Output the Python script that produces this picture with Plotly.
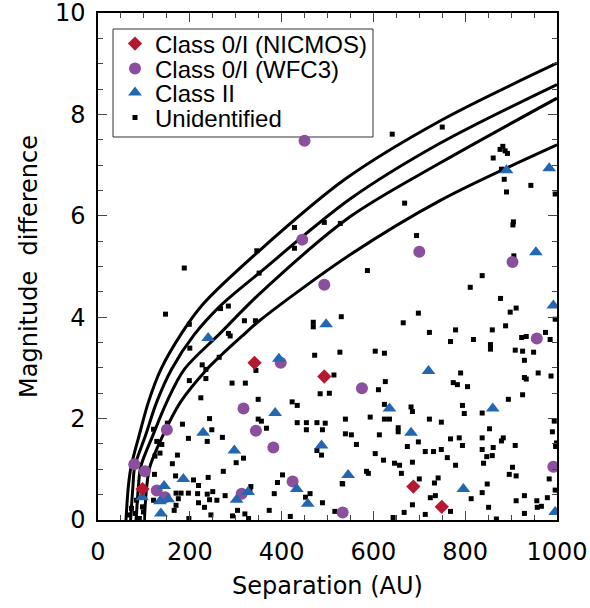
import plotly.graph_objects as go

# ---------------- data ----------------
# detection-limit curves (separation AU, magnitude difference)
curve1_sep = [61, 66, 72, 90, 110, 137, 182, 229, 350, 538, 745, 1000]
curve1_dm = [0.0, 0.65, 1.05, 1.68, 2.33, 2.97, 3.68, 4.26, 5.30, 6.72, 7.87, 9.01]
curve2_sep = [71, 76, 80, 104, 128, 160, 210, 266, 351, 549, 745, 1000]
curve2_dm = [0.0, 0.65, 1.05, 1.68, 2.33, 2.97, 3.66, 4.22, 4.87, 6.33, 7.43, 8.59]
curve3_sep = [83, 88, 93, 120, 150, 188, 266, 353, 549, 745, 1000]
curve3_dm = [0.0, 0.65, 1.05, 1.68, 2.33, 2.97, 3.68, 4.47, 5.98, 7.04, 8.32]
curve4_sep = [101, 106, 113, 142, 180, 237, 266, 313, 353, 549, 745, 1000]
curve4_dm = [0.0, 0.65, 1.05, 1.68, 2.33, 2.97, 3.23, 3.62, 3.94, 5.23, 6.30, 7.40]

nicmos_sep = [97, 341, 493, 687, 749]
nicmos_dm = [0.61, 3.10, 2.83, 0.66, 0.26]

wfc3_sep = [450, 445, 493, 700, 903, 956, 992, 533, 575, 398, 317, 344, 382,
            424, 313, 150, 79, 102, 128, 146]
wfc3_dm = [7.48, 5.53, 4.64, 5.29, 5.09, 3.58, 1.05, 0.15, 2.60, 3.10, 2.20,
           1.76, 1.43, 0.76, 0.52, 1.78, 1.10, 0.96, 0.58, 0.45]

class2_sep = [890, 983, 954, 992, 720, 635, 860, 682, 545, 796, 996, 497, 240,
              394, 386, 229, 297, 487, 186, 433, 327, 302, 457, 144, 135, 153,
              96, 137]
class2_dm = [6.90, 6.94, 5.28, 4.23, 2.94, 2.20, 2.20, 1.72, 0.89, 0.61, 0.16,
             3.86, 3.59, 3.18, 2.11, 1.72, 1.37, 1.47, 0.81, 0.61, 0.55, 0.40,
             0.32, 0.67, 0.37, 0.41, 0.45, 0.13]

unid_points = [
    (641, 7.61), (750, 7.75), (876, 7.31), (882, 7.37), (887, 7.28), (892, 7.23),
    (861, 7.14), (879, 6.92), (885, 6.72), (890, 6.47), (943, 6.60), (996, 6.43),
    (668, 6.25),
    (428, 5.77), (493, 5.87), (528, 5.85), (428, 5.36), (346, 5.31), (351, 4.87),
    (188, 4.97), (147, 4.06), (199, 3.86), (267, 4.17), (284, 4.22), (319, 3.93),
    (343, 3.93), (469, 3.90), (469, 3.81), (530, 4.01), (284, 3.68), (288, 3.63),
    (694, 5.61), (905, 5.88), (904, 5.82), (906, 5.21), (587, 4.92), (837, 4.82),
    (811, 4.59), (877, 4.37), (911, 4.18), (898, 4.10), (698, 4.08), (665, 3.89),
    (722, 3.70), (779, 3.75), (859, 3.75), (888, 3.83), (996, 3.96), (975, 3.70),
    (985, 3.56), (923, 3.60), (933, 3.62), (768, 3.52), (818, 3.56), (855, 3.46),
    (855, 3.37), (909, 3.35), (925, 3.33), (949, 3.31), (929, 3.15), (604, 3.33),
    (624, 3.29), (527, 3.31),
    (790, 2.90), (774, 2.71), (783, 2.67), (805, 2.63), (929, 2.81), (933, 2.78),
    (959, 2.90), (987, 2.84), (925, 2.47), (894, 2.38), (626, 2.73), (611, 2.57),
    (624, 2.28), (794, 2.26), (798, 2.10), (837, 2.11), (682, 2.23), (685, 2.14),
    (539, 1.99), (593, 2.03), (624, 1.99), (635, 1.99), (722, 1.99), (748, 1.93),
    (994, 1.95), (654, 1.82), (654, 1.74), (853, 1.80), (990, 1.74), (539, 1.70),
    (552, 1.68), (613, 1.68), (563, 1.49), (698, 1.54), (768, 1.60), (787, 1.62),
    (794, 1.47), (837, 1.62), (883, 1.62), (879, 1.56), (909, 1.47), (674, 1.45),
    (999, 1.52), (997, 1.45), (837, 1.39), (861, 1.43), (713, 1.35), (731, 1.35),
    (748, 1.39), (847, 1.25), (859, 1.27), (761, 1.23), (604, 1.31), (622, 1.18),
    (646, 1.12), (657, 1.08), (685, 1.14), (779, 1.08), (840, 1.12), (903, 1.04),
    (896, 0.90), (911, 0.87), (585, 0.96), (589, 0.92), (661, 0.92), (700, 0.81),
    (741, 0.83), (733, 0.73), (533, 0.71), (983, 0.81), (848, 0.71), (996, 0.59),
    (837, 0.54), (813, 0.42), (929, 0.48), (956, 0.38), (979, 0.44), (911, 0.38),
    (724, 0.44), (735, 0.48), (685, 0.30), (667, 0.15), (713, 0.11), (768, 0.17),
    (851, 0.25), (643, 0.05), (868, 0.02), (929, 0.13), (957, 0.25), (966, 0.27),
    (472, 3.25), (200, 3.39), (264, 3.21), (227, 3.06), (235, 2.97), (344, 2.95),
    (514, 2.86), (199, 2.75), (235, 2.79), (292, 2.70), (321, 2.70), (484, 2.49),
    (504, 2.50), (224, 2.41), (349, 2.38), (423, 2.33), (434, 2.26), (349, 1.99),
    (356, 1.95), (243, 2.00), (434, 1.92), (454, 1.92), (477, 1.92), (495, 1.91),
    (367, 1.81), (454, 1.78), (489, 1.78), (184, 1.89), (151, 1.91), (248, 1.78),
    (238, 1.55), (121, 1.79), (197, 1.61), (139, 1.49), (128, 1.55), (135, 1.32),
    (173, 1.28), (162, 1.11), (124, 1.26), (123, 0.90), (169, 0.87), (208, 0.79),
    (219, 0.68), (240, 0.84), (250, 0.56), (170, 0.53), (181, 0.53), (197, 0.53),
    (217, 0.52), (238, 0.51), (243, 0.40), (259, 0.39), (175, 0.42), (219, 0.34),
    (232, 0.25), (166, 0.19), (198, 0.03), (246, 0.10), (170, 0.29), (90, 0.03),
    (81, 0.13), (73, 0.23), (97, 0.26), (99, 0.16), (121, 0.39), (273, 0.96),
    (277, 0.48), (293, 0.08), (304, 0.19), (84, 0.39), (66, 0.10), (271, 1.63),
    (301, 1.13), (317, 1.22), (477, 1.37), (487, 1.28), (402, 0.89), (391, 0.74),
    (333, 0.66), (331, 0.59), (384, 0.52), (462, 0.52), (452, 0.45), (489, 0.34),
    (532, 0.72), (373, 0.19), (419, 0.07), (320, 0.12), (328, 0.03), (516, 0.17),
]
unid_sep = [p[0] for p in unid_points]
unid_dm = [p[1] for p in unid_points]

x_ticks = [0, 200, 400, 600, 800, 1000]
y_ticks = [0, 2, 4, 6, 8, 10]

# ---------------- figure ----------------
AXFONT = "DejaVu Sans"
LEGFONT = "Liberation Sans, Arial, sans-serif"
RED = "#B5192F"
PURPLE = "#8A4F9D"
BLUE = "#2367B1"

# plot area in pixels: x 98..557, y 13..520
PL, PR, PT, PB = 98, 557, 13, 520
def px_x(p):
    return (p - PL) / (PR - PL)
def px_y(p):
    return (PB - p) / (PB - PT)

fig = go.Figure()

for cx, cy in [(curve1_sep, curve1_dm), (curve2_sep, curve2_dm),
               (curve3_sep, curve3_dm), (curve4_sep, curve4_dm)]:
    fig.add_trace(go.Scatter(
        x=cx, y=cy, mode="lines", showlegend=False, hoverinfo="skip",
        line=dict(color="black", width=3, shape="spline", smoothing=0.9)))

fig.add_trace(go.Scatter(
    x=unid_sep, y=unid_dm, mode="markers", name="Unidentified", legend="legend4",
    marker=dict(symbol="square", size=5, color="black", line=dict(width=0))))
fig.add_trace(go.Scatter(
    x=wfc3_sep, y=wfc3_dm, mode="markers", name="Class 0/I (WFC3)", legend="legend2",
    marker=dict(symbol="circle", size=12, color=PURPLE, line=dict(width=0))))
fig.add_trace(go.Scatter(
    x=class2_sep, y=class2_dm, mode="markers", name="Class II", legend="legend3",
    marker=dict(symbol="triangle-up", size=12, color=BLUE, line=dict(width=0))))
fig.add_trace(go.Scatter(
    x=nicmos_sep, y=nicmos_dm, mode="markers", name="Class 0/I (NICMOS)", legend="legend",
    marker=dict(symbol="diamond", size=11, color=RED, line=dict(width=0))))

axis_common = dict(
    showgrid=False, zeroline=False, showline=True, linecolor="black", linewidth=1.5,
    mirror="ticks", ticks="inside", ticklen=9, tickwidth=1, tickcolor="#444444",
    tickfont=dict(family=AXFONT, size=24, color="black"),
    ticklabeloverflow="allow", automargin=False,
)

def leg(row_px):
    return dict(
        x=px_x(115), y=px_y(row_px), xanchor="left", yanchor="middle",
        bgcolor="rgba(0,0,0,0)", borderwidth=0, itemwidth=30,
        font=dict(family=LEGFONT, size=24, color="black"),
    )

fig.update_layout(
    width=590, height=608,
    margin=dict(l=PL, r=590 - PR, t=PT, b=608 - PB),
    paper_bgcolor="white", plot_bgcolor="white",
    showlegend=True,
    legend=leg(44), legend2=leg(69), legend3=leg(93), legend4=leg(118),
    shapes=[dict(type="rect", xref="paper", yref="paper", layer="below",
                 x0=px_x(113), x1=px_x(373), y0=px_y(137), y1=px_y(29),
                 line=dict(color="#333333", width=1), fillcolor="white")],
    xaxis=dict(
        axis_common, range=[0, 1000], tickmode="array", tickvals=x_ticks,
        ticktext=[str(v) for v in x_ticks],
        minor=dict(ticks="inside", ticklen=5, dtick=50, tick0=0, tickcolor="#444444"),
        ticklabelstandoff=9,
        title=dict(text="Separation (AU)", font=dict(family=AXFONT, size=24, color="black"),
                   standoff=13),
    ),
    yaxis=dict(
        axis_common, range=[0, 10], tickmode="array", tickvals=y_ticks,
        ticktext=[str(v) for v in y_ticks],
        minor=dict(ticks="inside", ticklen=5, dtick=0.5, tick0=0, tickcolor="#444444"),
        ticklabelstandoff=6,
        title=dict(text="Magnitude  difference", font=dict(family=AXFONT, size=24, color="black"),
                   standoff=11),
    ),
)

fig.write_html("out.html")
